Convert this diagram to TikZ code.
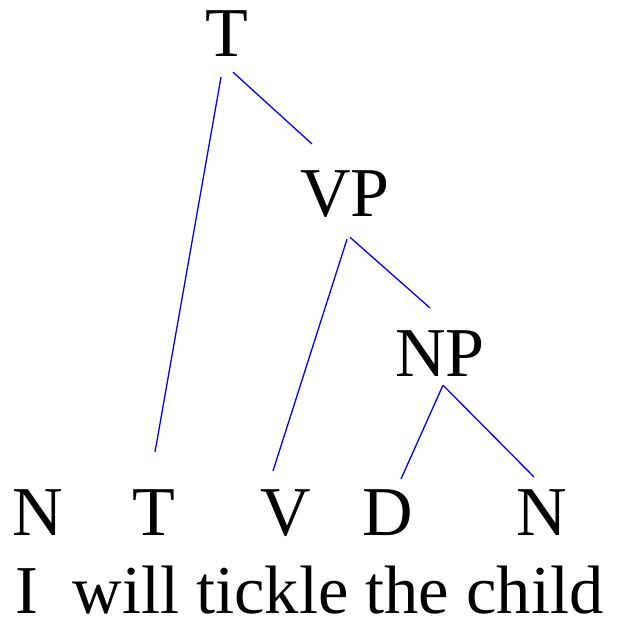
\documentclass[tikz,border=0pt]{standalone}
\usepackage{fontspec}
\setmainfont{Liberation Serif}
\tikzset{
  cat/.style={inner sep=0pt, anchor=base, font=\fontsize{70}{84}\selectfont},
  branch/.style={draw=blue, line width=1.3pt}
}
\begin{document}
\begin{tikzpicture}[x=1pt, y=1pt]
        \useasboundingbox (0,0) rectangle (616,621);

        % Phrase labels
        \node[cat] (top) at (227,564) {T};
        \node[cat] (vp) at (345,404) {VP};
        \node[cat] (np) at (440,244) {NP};

        % Word categories
        \node[cat] (leafN) at (37.5,85) {N};
        \node[cat] (leafT) at (154,85) {T};
        \node[cat] (leafV) at (286,85) {V};
        \node[cat] (leafD) at (388,85) {D};
        \node[cat] (leafChild) at (542,85) {N};

        % Sentence
        \node[cat, font=\fontsize{68.5}{82}\selectfont] (words) at (309.5,8) {I\ \ will tickle the child};

        % Branches
        \draw[branch] ([shift={(-6,-20)}]top.south) -- ([shift={(1,38)}]leafT.north);
        \draw[branch] ([shift={(6,-15)}]top.south) -- ([shift={(-33,27)}]vp.north);
        \draw[branch] ([shift={(2,-21)}]vp.south) -- ([shift={(-13,19)}]leafV.north);
        \draw[branch] ([shift={(5,-19)}]vp.south) -- ([shift={(-10,23)}]np.north);
        \draw[branch] ([shift={(3,-8)}]np.south) -- ([shift={(13,11)}]leafD.north);
        \draw[branch] ([shift={(3,-8)}]np.south) -- ([shift={(-8,13)}]leafChild.north);
    \end{tikzpicture}
\end{document}
